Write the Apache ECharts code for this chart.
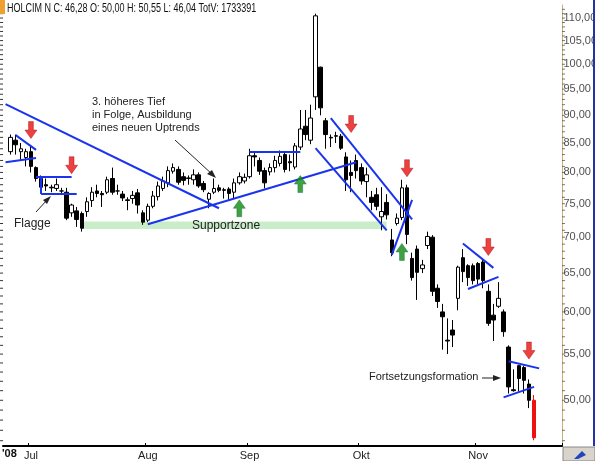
<!DOCTYPE html>
<html><head><meta charset="utf-8">
<script src="https://cdn.jsdelivr.net/npm/echarts@6/dist/echarts.min.js"></script>
<style>html,body{margin:0;padding:0;background:#fff}#c{width:595px;height:461px}</style>
</head><body><div id="c"></div>
<script>
// OHLC data [open, close, low, high]
const candles = [
[83.5,86,83,86.5],[85.5,84.7,83,86.5],[83.5,84,82,85],[82.5,83.5,81,84],[83.5,81,80,84.5],
[80.8,79,78.5,81],[79,77.6,77,79.5],[78,77.8,77,79],[77.6,77.5,76.8,78],[77.4,78,77,79],
[77,77,76.5,77.5],[76.8,72.8,72.5,77.5],[73.6,74.8,73,75],[73.9,72.6,71.5,74.5],[73.5,71.3,70.8,73.8],
[73.8,75.3,73,76],[75.5,76.8,74.5,77.6],[77,76.6,76,78],[76.6,76.4,74.5,77],[76.8,78.8,76.5,79.3],
[79,76.8,76.4,80.8],[77,77,76.4,78],[76.5,75.9,75.4,77],[75.6,75.5,74,76],[75.8,76.3,75,77],
[76.7,74.8,73.5,77.3],[73.6,72.2,71.8,74],[72.5,74.6,72.2,75],[74.6,76.2,74.3,77],[76.1,77.8,75.5,78.5],
[77.4,78.6,77,79.3],[78.3,80.3,77.6,81],[80.2,80.8,79.8,81.5],[80.5,78.4,78,81],[79.3,78.7,77.9,80],
[79,79.1,78,79.5],[78.8,79.6,78,80.5],[79.6,77.8,77.5,80],[78.2,77.2,76.8,78.6],[75.7,76.6,74.3,76.8],
[76.8,77.4,76.5,79],[77.5,77.1,76.8,78],[77.2,77.1,75.8,77.5],[77.3,76.6,75.6,77.6],[76.8,78.3,75.8,79],
[78.3,79.3,78,80],[78.6,79.2,78.2,79.8],[79.3,82.8,79,84],[82.8,82.6,81,83.4],[82,80.2,79.6,82.5],
[80.3,78.3,77.4,80.8],[80.1,80.8,79.5,81.5],[80.8,82,80,82.8],[81.5,82.7,81,83.7],[83,80.5,80,83.5],
[81.8,81.6,80.2,83],[80.9,84.5,80.5,85],[84.3,87.5,83.8,91],[88,86.5,85.5,91],[85.5,89.5,84.8,92],
[93.5,110.5,91,111],[99.4,91.4,90,99.5],[89,86.5,84,89.5],[86,85.9,84.3,86.5],[86.3,86.2,85,87],
[86.2,84.1,83.8,86.6],[82.6,78.8,77,83.4],[80,79.5,76.8,82],[82,80.3,79,83],[80.8,78.6,78,81.5],
[78.5,79.6,76,80.8],[76,75.2,74,77],[76.4,74.6,74,77.5],[73,73.8,71,77.6],[75.2,73.3,72.6,76.5],
[69.6,67.8,67.3,71.2],[72,72.8,71.7,73.5],[72.9,77.5,72.5,78.8],[77.5,70.4,69,78],[67,64.4,64,67.8],
[68.3,65.1,61.5,68.8],[65.6,66.1,65,66.8],[68.8,70.1,68.3,70.8],[70,62.6,62,70.3],[63,61.3,60.5,63.5],
[60,59.4,55.5,61],[56.6,56.5,55,59.2],[57.8,57.2,55.8,59],[61.7,65.8,60.2,66],[67.1,65.2,63.8,68.3],
[66,64.4,63.3,66.2],[66,64,63.5,66.3],[66.3,64.2,63.5,66.5],[66.5,64,63,67],[62.6,58.6,58.3,63.5],
[59.6,59,56.5,61],[60.7,61.7,60.5,63.8],[60,57.6,57,60.3],[55.8,51.4,50.7,56],[51.1,51,50.9,53.3],
[53.7,52.3,50.9,53.8],[53.5,52.1,50.7,53.7],[51.7,50.0,49.2,52.2],[50,46.28,46.04,50.55]
];
const monthLabels = {5:'Jul',28:'Aug',48:'Sep',70:'Okt',93:'Nov'};
const yTicks = [50,55,60,65,70,75,80,85,90,95,100,105,110];
const blueLines = [
 [[0,92.1],[41.8,74.3]],
 [[27.8,71.9],[69.4,81.7]],
 [[-0.1,81.7],[5.8,82.4]],
 [[1.9,86.4],[5.8,83.8]],
 [[5.8,79.3],[13.1,79.3]],
 [[7.0,76.5],[14.1,76.5]],
 [[7.0,79.3],[7.0,76.5]],
 [[47.7,83.4],[58.0,83.4]],
 [[63.5,89.5],[80.4,72.6]],
 [[60.5,84.1],[74.5,71.0]],
 [[76.3,67.5],[79.6,75.6]],
 [[90.2,69.1],[96.3,65.7]],
 [[91.4,62.9],[97.3,64.5]],
 [[99.3,54.2],[105.2,53.4]],
 [[98.3,50.3],[104.4,51.4]]
];
const supportZone = [[14.7,72.3],[74.5,71.2]];
const redArrows = [[4.8,87.3],[12.9,81.2],[67.6,88.4],[79.4,80.7],[95.2,68.6],[103.2,55.4]];
const greenArrows = [[45.6,74.3],[57.6,78.1],[78.4,67.9]];

const N = 110;
const cats = [];
for (let i=0;i<N;i++) cats.push(String(i));
const cdata = ['-'].concat(candles.map((c,i)=> i===candles.length-1 ?
  {value:c,itemStyle:{color:'#ee1111',color0:'#ee1111',borderColor:'#ee1111',borderColor0:'#ee1111'}} : c));
while (cdata.length<N) cdata.push('-');

const minorTicks=[]; for(let v=46; v<=112; v++) minorTicks.push([N-1,v]);
const leftTicks=[]; for(let v=46; v<=112; v++) leftTicks.push([0,v]);

const downPath='path://M3,0 L7,0 L7,6 L10,6 L5,12 L0,6 L3,6 Z';
const upPath='path://M5,0 L10,6 L7,6 L7,12 L3,12 L3,6 L0,6 Z';

const ff='"Liberation Sans", Arial, sans-serif';
const fs='12px ';
const chart = echarts.init(document.getElementById('c'));
chart.setOption({
 animation:false,
 grid:{left:3,right:33,top:5,bottom:15},
 xAxis:{type:'category',data:cats,boundaryGap:true,
  axisLine:{lineStyle:{color:'#000',width:2}},
  axisTick:{show:true,interval:(i)=>!!monthLabels[i],length:3,inside:true,lineStyle:{color:'#000'}},
  axisLabel:{interval:0,formatter:(v,i)=>monthLabels[i]||'',fontSize:11,color:'#222',fontFamily:ff,margin:4}},
 yAxis:{type:'log',logBase:10,min:45.5,max:113,position:'right',
  axisLine:{show:true,lineStyle:{color:'#c8b070',width:1}},
  axisTick:{show:false},axisLabel:{show:false},splitLine:{show:false}},
 series:[
  {type:'candlestick',data:cdata,barMaxWidth:4,barWidth:4,
   itemStyle:{color:'#fff',color0:'#000',borderColor:'#000',borderColor0:'#000',borderWidth:1},
   markArea:{silent:true,itemStyle:{color:'#c9ecc9'},data:[[{coord:supportZone[0]},{coord:supportZone[1]}]]},
   markLine:{silent:true,symbol:['none','none'],animation:false,
     lineStyle:{color:'#1a33ee',width:2,type:'solid'},label:{show:false},
     data:blueLines.map(l=>[{coord:l[0]},{coord:l[1]}])}
  },
  {type:'scatter',data:redArrows,symbol:downPath,symbolSize:[12,17],itemStyle:{color:'#e81010',borderColor:'#900',borderWidth:0.5},z:5},
  {type:'scatter',data:greenArrows,symbol:upPath,symbolSize:[12,17],itemStyle:{color:'#118a11',borderColor:'#064',borderWidth:0.5},z:5},
  {type:'scatter',data:minorTicks,symbol:'rect',symbolSize:[3,1],symbolOffset:[4,0],itemStyle:{color:'#555'},silent:true,clip:false},
  {type:'scatter',data:leftTicks,symbol:'rect',symbolSize:[3,1],symbolOffset:[-4,0],itemStyle:{color:'#000'},silent:true,clip:false},
  {type:'scatter',data:yTicks.map(v=>[N-1,v]),symbolSize:0,clip:false,silent:true,
   label:{show:true,position:'right',distance:4,formatter:(p)=>p.value[1].toFixed(2).replace('.',','),
   fontSize:11,color:'#222',fontFamily:ff}}
 ],
 graphic:{elements:[
  {type:'rect',z:100,shape:{x:0,y:0,width:5,height:14},style:{fill:'#f0a030'}},
  {type:'text',z:100,x:7,y:3,scaleX:0.75,style:{text:'HOLCIM N C: 46,28 O: 50,00 H: 50,55 L: 46,04 TotV: 1733391',font:fs+ff,fill:'#111'}},
  {type:'text',z:100,x:92,y:95,style:{text:'3. höheres Tief\nin Folge, Ausbildung\neines neuen Uptrends',font:'11px '+ff,fill:'#222',lineHeight:13}},
  {type:'line',z:100,shape:{x1:175,y1:140,x2:213,y2:175},style:{stroke:'#222',lineWidth:1}},
  {type:'polygon',z:100,shape:{points:[[216,178],[207,174],[212,170]]},style:{fill:'#222'}},
  {type:'text',z:100,x:14,y:218,style:{text:'Flagge',font:fs+ff,fill:'#222'}},
  {type:'line',z:100,shape:{x1:36,y1:212,x2:48,y2:199},style:{stroke:'#222',lineWidth:1}},
  {type:'polygon',z:100,shape:{points:[[51,196],[43,200],[47,204]]},style:{fill:'#222'}},
  {type:'text',z:100,x:192,y:220,style:{text:'Supportzone',font:fs+ff,fill:'#222'}},
  {type:'text',z:100,x:369,y:371,style:{text:'Fortsetzungsformation',font:'11px '+ff,fill:'#222'}},
  {type:'line',z:100,shape:{x1:482,y1:378,x2:494,y2:378},style:{stroke:'#222',lineWidth:1}},
  {type:'polygon',z:100,shape:{points:[[501,378],[493,375],[493,381]]},style:{fill:'#222'}},
  {type:'text',z:100,x:2,y:448,style:{text:"'08",font:'bold 11px '+ff,fill:'#111'}},
  {type:'rect',z:100,shape:{x:593,y:0,width:2,height:446},style:{fill:'#2233aa'}},
  {type:'rect',z:100,shape:{x:563,y:447,width:32,height:14},style:{fill:'#d8d4cc',stroke:'#888'}},
  {type:'polygon',z:100,shape:{points:[[574,459],[582,451],[586,455],[578,459]]},style:{fill:'#2244bb'}}
 ]}
});
</script></body></html>
